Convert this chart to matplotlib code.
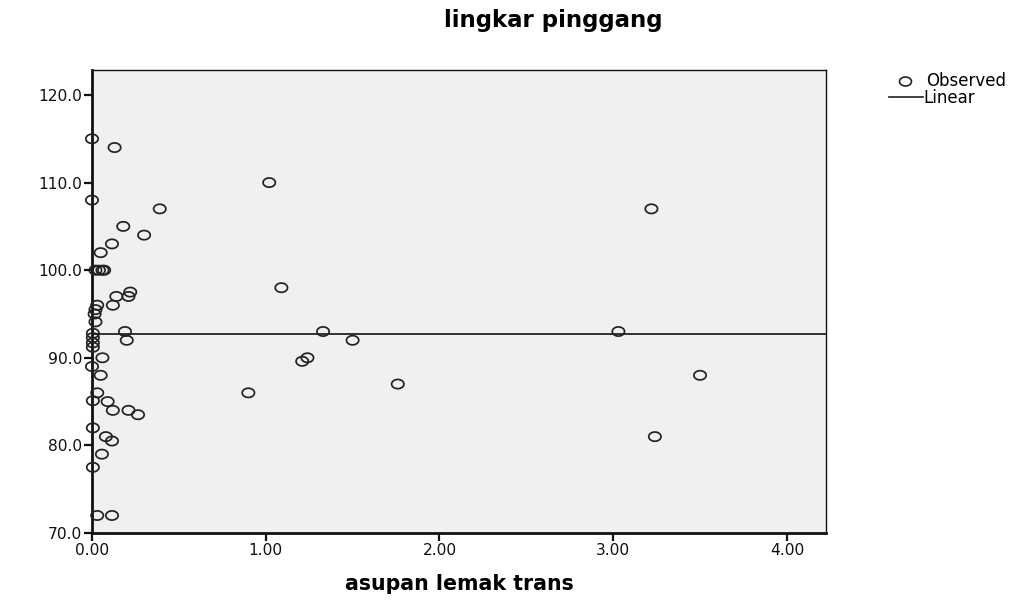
import matplotlib
matplotlib.use("Agg")
import numpy as np
import matplotlib.pyplot as plt
from matplotlib.lines import Line2D
from matplotlib.path import Path

plt.rcParams['font.family'] = ['DejaVu Sans']

# asupan lemak trans (x) vs lingkar pinggang (y)
x_vals = [0.00, 0.13, 0.00, 0.39, 1.02, 0.18, 0.30, 0.115, 0.05,
          0.02, 0.04, 0.06, 0.07,
          0.14, 0.22, 0.21, 0.12, 0.03, 0.02, 0.015, 0.02,
          1.09, 0.19, 0.20,
          0.005, 0.005, 0.005, 0.005,
          0.06, 0.00, 0.05, 0.03, 0.005, 0.09, 0.12, 0.21, 0.265,
          0.005, 0.08, 0.115, 0.057, 0.005, 0.03, 0.115,
          0.90, 1.21, 1.24, 1.33, 1.50, 1.76, 3.03, 3.22, 3.24, 3.50]
y_vals = [115.0, 114.0, 108.0, 107.0, 110.0, 105.0, 104.0, 103.0, 102.0,
          100.0, 100.0, 100.0, 100.0,
          97.0, 97.5, 97.0, 96.0, 96.0, 95.5, 95.0, 94.1,
          98.0, 93.0, 92.0,
          92.8, 92.3, 91.7, 91.2,
          90.0, 89.0, 88.0, 86.0, 85.1, 85.0, 84.0, 84.0, 83.5,
          82.0, 81.0, 80.5, 79.0, 77.5, 72.0, 72.0,
          86.0, 89.6, 90.0, 93.0, 92.0, 87.0, 93.0, 107.0, 81.0, 88.0]

# linear fit coefficients
fit_intercept = 92.7
fit_slope = 0.0

x_ticks = [0, 1, 2, 3, 4]
y_ticks = [70, 80, 90, 100, 110, 120]

W, H = 1013, 614
fig = plt.figure(figsize=(W/100, H/100), dpi=100)
ax = fig.add_axes([92/W, 1-533/H, (826-92)/W, (533-70)/H])
ax.set_facecolor('#f0f0f0')

# slightly wide open-circle marker (as in the reference)
t = np.linspace(0, 2*np.pi, 60)
ell = Path(np.column_stack([np.cos(t), 0.75*np.sin(t)]), closed=True)

ax.scatter(x_vals, y_vals, s=78, marker=ell, facecolors='none', edgecolors='#222222',
           linewidths=1.25, zorder=3, clip_on=False)
xmin, xmax = 0, 4.225
ax.plot([xmin, xmax], [fit_intercept + fit_slope*xmin, fit_intercept + fit_slope*xmax],
        color='#111111', lw=1.2, zorder=2)

ax.set_xlim(xmin, xmax)
ax.set_ylim(70, 122.85)
ax.set_xticks(x_ticks)
ax.set_yticks(y_ticks)
ax.set_xticklabels([f"{v:.2f}" for v in x_ticks])
ax.set_yticklabels([f"{v:.1f}" for v in y_ticks])
ax.tick_params(direction='out', length=6, width=1.6, labelsize=11.2, colors='#111111', pad=1)
ax.tick_params(axis='x', pad=1.5)
for s in ax.spines.values():
    s.set_color('#111111')
ax.spines['left'].set_linewidth(2)
ax.spines['bottom'].set_linewidth(2)
ax.spines['top'].set_linewidth(1)
ax.spines['right'].set_linewidth(1)

fig.text(553/W, 1-27/H, 'lingkar pinggang', ha='center', va='baseline',
         fontsize=16.5, fontweight='bold')
fig.text(459/W, 1-590/H, 'asupan lemak trans', ha='center', va='baseline',
         fontsize=14.8, fontweight='bold')

# legend drawn in figure pixels
fig.add_artist(Line2D([905/W], [1-81/H], marker=ell, ls='none', markerfacecolor='none',
                      markeredgecolor='#222222', markersize=8.6, markeredgewidth=1.2,
                      transform=fig.transFigure))
fig.add_artist(Line2D([889/W, 923/W], [1-97/H, 1-97/H], color='#333333', lw=1.3,
                      transform=fig.transFigure))
fig.text(926/W, 1-81/H, 'Observed', ha='left', va='center', fontsize=12)
fig.text(923/W, 1-98/H, 'Linear', ha='left', va='center', fontsize=12)

fig.savefig('out.png', dpi=100)
